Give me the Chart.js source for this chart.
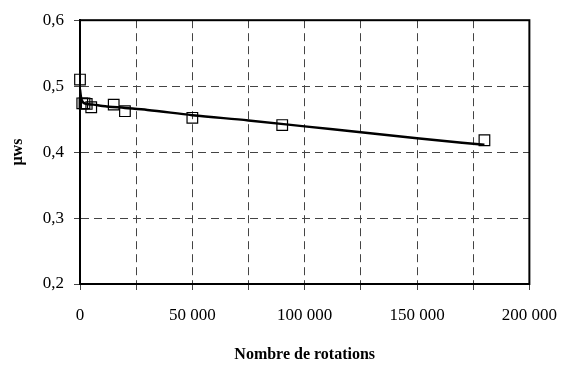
<!DOCTYPE html>
<html>
<head>
<meta charset="utf-8">
<script src="https://cdn.jsdelivr.net/npm/chart.js@4"></script>
<style>
  html, body { margin: 0; background: #fff; }
  #wrap { width: 572px; height: 367px; }
</style>
</head>
<body>
<div id="wrap"><canvas id="chart"></canvas></div>
<script>
// measured points
const rotations = [0, 1000, 2000, 3000, 5000, 15000, 20000, 50000, 90000, 180000];
const muMeasured = [0.51, 0.474, 0.474, 0.473, 0.468, 0.472, 0.462, 0.452, 0.441, 0.418];
// fitted trend curve
const fitRotations = [0, 500, 1500, 3000, 6000, 10000, 20000, 30000, 50000, 75000, 100000, 125000, 150000, 180000];
const muFit = [0.495, 0.482, 0.475, 0.473, 0.472, 0.470, 0.467, 0.464, 0.456, 0.448, 0.439, 0.430, 0.421, 0.411];
const xLabelTicks = [0, 50000, 100000, 150000, 200000];
const yTicks = [0.2, 0.3, 0.4, 0.5, 0.6];

const serif = "'Liberation Serif', 'Times New Roman', serif";

const frame = {
  id: 'frame',
  afterDatasetsDraw(chart) {
    const a = chart.chartArea;
    const ctx = chart.ctx;
    ctx.save();
    ctx.strokeStyle = '#000';
    ctx.lineWidth = 2;
    ctx.strokeRect(a.left, a.top, a.right - a.left, a.bottom - a.top);
    ctx.restore();
  }
};

const fmt = v => String(v).replace(/\B(?=(\d{3})+(?!\d))/g, ' ');

new Chart(document.getElementById('chart'), {
  type: 'scatter',
  data: {
    datasets: [
      {
        label: 'fit',
        data: fitRotations.map((x, i) => ({ x: x, y: muFit[i] })),
        showLine: true,
        borderColor: '#000',
        borderWidth: 2.5,
        pointRadius: 0,
        cubicInterpolationMode: 'monotone',
        order: 2
      },
      {
        label: 'mesures',
        data: rotations.map((x, i) => ({ x: x, y: muMeasured[i] })),
        pointStyle: 'rect',
        pointRadius: 7.5,
        pointBackgroundColor: 'rgba(255,255,255,0)',
        pointBorderColor: '#000',
        pointBorderWidth: 1.2,
        clip: false,
        order: 1
      }
    ]
  },
  options: {
    responsive: true,
    maintainAspectRatio: false,
    animation: false,
    layout: { padding: { top: 14, right: 42, left: 0, bottom: 0 } },
    plugins: { legend: { display: false }, tooltip: { enabled: false } },
    scales: {
      x: {
        type: 'linear',
        min: 0,
        max: 200000,
        afterFit(s) { s.height = 83; },
        ticks: {
          stepSize: 25000,
          padding: 15,
          color: '#000',
          font: { family: serif, size: 17 },
          maxRotation: 0,
          autoSkip: false,
          callback: v => xLabelTicks.includes(v) ? fmt(v) : ''
        },
        grid: { color: '#444', lineWidth: 1, tickLength: 6 },
        border: { dash: [8, 5], color: '#000', width: 2 },
        title: {
          display: true,
          text: 'Nombre de rotations',
          color: '#000',
          font: { family: serif, size: 16, weight: 'bold' },
          padding: { top: 18, bottom: 3 }
        }
      },
      y: {
        min: 0.2,
        max: 0.6,
        afterFit(s) { s.width = 80; },
        afterBuildTicks(s) { s.ticks = yTicks.map(v => ({ value: v })); },
        ticks: {
          padding: 10,
          color: '#000',
          font: { family: serif, size: 17 },
          callback: v => v.toFixed(1).replace('.', ',')
        },
        grid: { color: '#444', lineWidth: 1, tickLength: 6 },
        border: { dash: [8, 5], color: '#000', width: 2 },
        title: {
          display: true,
          text: 'µws',
          color: '#000',
          font: { family: serif, size: 16, weight: 'bold' },
          padding: { top: 8, bottom: 0 }
        }
      }
    }
  },
  plugins: [frame]
});
</script>
</body>
</html>
